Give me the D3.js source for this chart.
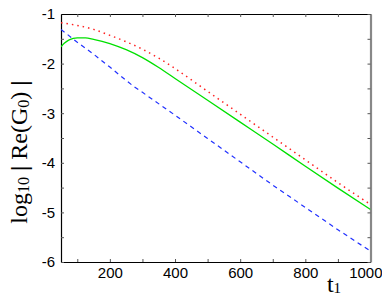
<!DOCTYPE html>
<html><head><meta charset="utf-8">
<script src="https://cdn.jsdelivr.net/npm/d3@7"></script>
<style>body{margin:0;background:#fff}svg{display:block}</style>
</head><body>
<svg id="c" width="382" height="300"></svg>
<script>
const redT   = [50,100,150,200,250,300,350,400,500,600,700,800,900,1000];
const redV   = [-1.175,-1.23,-1.31,-1.43,-1.56,-1.71,-1.89,-2.10,-2.56,-3.02,-3.48,-3.94,-4.40,-4.84];
const greenT = [50,60,75,100,125,150,200,250,300,350,400,500,600,700,800,900,1000];
const greenV = [-1.66,-1.59,-1.52,-1.48,-1.48,-1.51,-1.595,-1.72,-1.88,-2.08,-2.30,-2.74,-3.18,-3.62,-4.07,-4.51,-4.94];
const blueT  = [50,100,150,200,250,275,300,400,500,600,700,800,900,1000];
const blueV  = [-1.31,-1.57,-1.81,-2.07,-2.34,-2.47,-2.58,-3.04,-3.51,-3.98,-4.45,-4.90,-5.35,-5.78];
const xTicks = [100,200,300,400,500,600,700,800,900,1000];
const xLabels = [200,400,600,800,1000];
const yTicks = [-6,-5.5,-5,-4.5,-4,-3.5,-3,-2.5,-2,-1.5,-1];
const yLabels = [-6,-5,-4,-3,-2,-1];

const svg = d3.select("#c");
const L=61, R=370.5, T=14, B=262;
const x = d3.scaleLinear().domain([50,1000]).range([L,R]);
const y = d3.scaleLinear().domain([-6,-1]).range([B,T]);

svg.append("defs").append("clipPath").attr("id","pc")
  .append("rect").attr("x",L).attr("y",T).attr("width",R-L).attr("height",B-T);

const fmtX = d => xLabels.includes(d) ? String(d) : "";
const fmtY = d => yLabels.includes(d) ? String(d) : "";

const gx = svg.append("g").attr("transform",`translate(0,${B})`)
  .call(d3.axisBottom(x).tickValues(xTicks).tickFormat(fmtX).tickSizeInner(-3).tickSizeOuter(0).tickPadding(5.5));
const gy = svg.append("g").attr("transform",`translate(${L},0)`)
  .call(d3.axisLeft(y).tickValues(yTicks).tickFormat(fmtY).tickSizeInner(-3).tickSizeOuter(0).tickPadding(6));
const gt = svg.append("g").attr("transform",`translate(0,${T})`)
  .call(d3.axisTop(x).tickValues(xTicks).tickFormat("").tickSizeInner(-3).tickSizeOuter(0));
const gr = svg.append("g").attr("transform",`translate(${R},0)`)
  .call(d3.axisRight(y).tickValues(yTicks).tickFormat("").tickSizeInner(-3).tickSizeOuter(0));

[gx,gy,gt,gr].forEach(g=>{
  g.selectAll(".domain").attr("stroke","#000").attr("stroke-width",1.2);
  g.selectAll(".tick line").attr("stroke","#555").attr("stroke-width",1);
  g.selectAll("text").attr("font-family","'Liberation Sans', Arial, sans-serif").attr("font-size",15).attr("fill","#000");
});
gr.select(".domain").attr("stroke","#888").attr("stroke-width",2.2);
gx.selectAll(".tick").filter(d=>d===1000).select("text").attr("text-anchor","end").attr("x",11.5);

const plot = svg.append("g").attr("clip-path","url(#pc)");
const mk = (T,V,curve) => d3.line().x((d,i)=>x(T[i])).y((d,i)=>y(V[i])).curve(curve)(T);

plot.append("path").attr("d",mk(greenT,greenV,d3.curveMonotoneX))
  .attr("fill","none").attr("stroke","#00e000").attr("stroke-width",1.3);
plot.append("path").attr("d",mk(redT,redV,d3.curveMonotoneX))
  .attr("fill","none").attr("stroke","#ff2020").attr("stroke-width",1.5).attr("stroke-dasharray","1.5,4");
plot.append("path").attr("d",mk(blueT,blueV,d3.curveLinear))
  .attr("fill","none").attr("stroke","#2030ff").attr("stroke-width",1.2).attr("stroke-dasharray","4.5,4");

const xt = svg.append("text").attr("x",334).attr("y",292)
  .attr("font-family","'Liberation Serif', 'Times New Roman', serif").attr("font-size",24).attr("text-anchor","middle");
xt.append("tspan").text("t");
xt.append("tspan").attr("font-size",15).attr("dy",1).text("1");

const yt = svg.append("text").attr("transform","translate(27,152) rotate(-90)")
  .attr("text-anchor","middle")
  .attr("font-family","'Liberation Serif', 'Times New Roman', serif").attr("font-size",24);
yt.append("tspan").text("log");
yt.append("tspan").attr("font-size",16).attr("dy",2).text("10");
yt.append("tspan").attr("dy",-2).attr("font-weight","bold").text(" | ");
yt.append("tspan").text("Re(G");
yt.append("tspan").attr("font-size",16).attr("dy",2).text("0");
yt.append("tspan").attr("dy",-2).text(")");
yt.append("tspan").attr("font-weight","bold").text(" |");
</script>
</body></html>
